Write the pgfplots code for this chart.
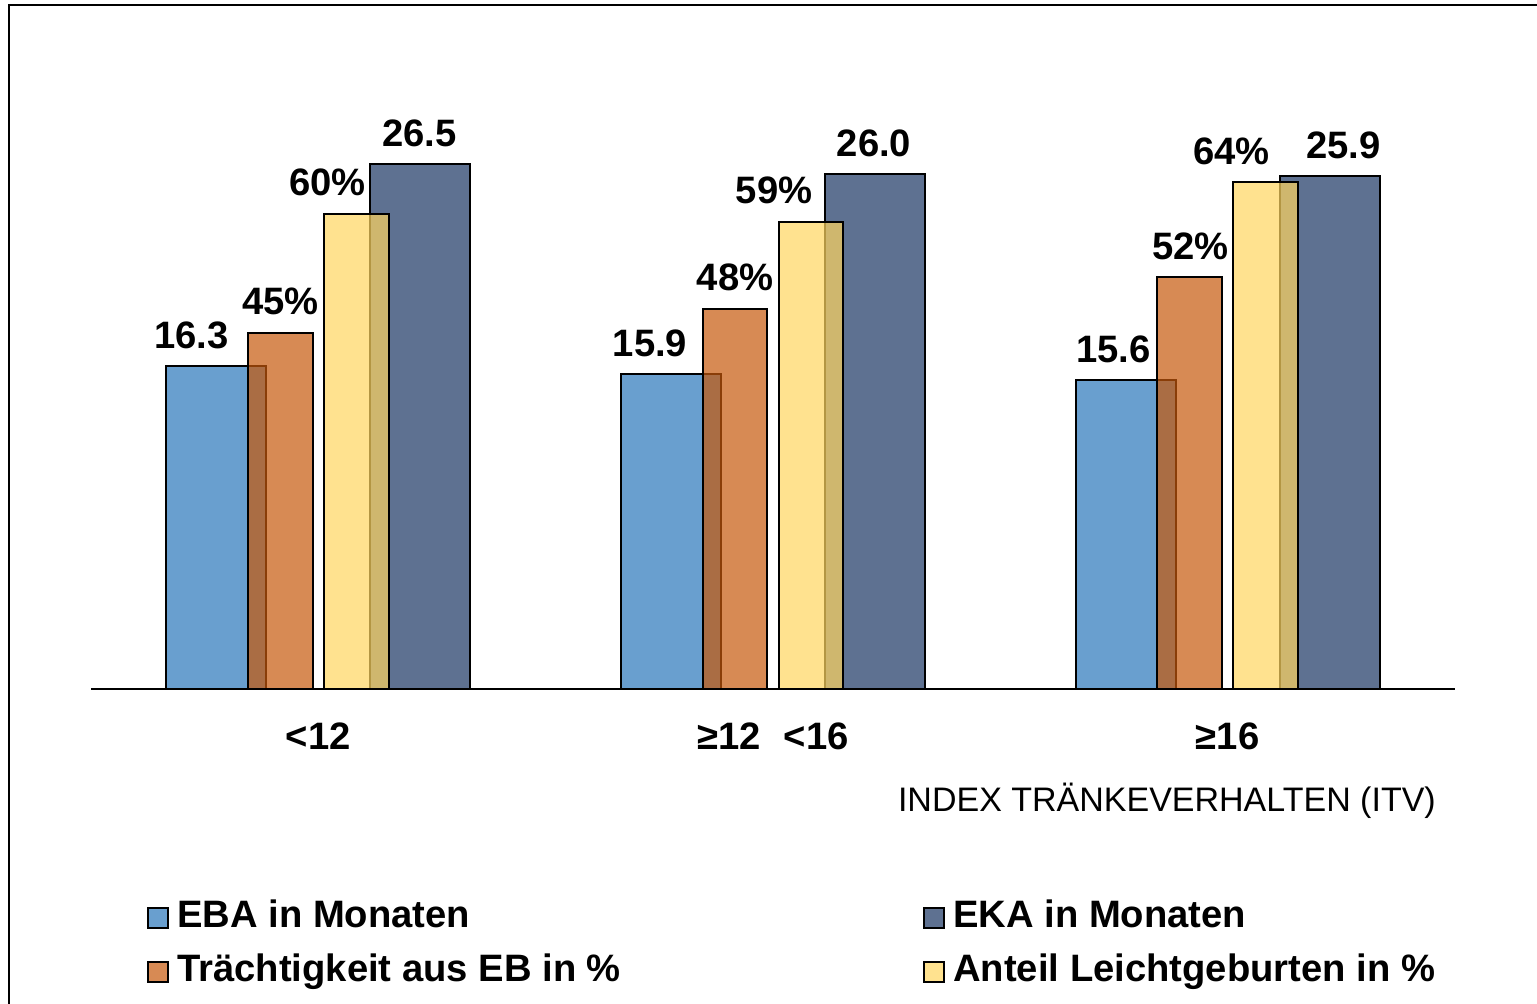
\documentclass[border=0pt]{standalone}
\usepackage{fontspec}
\setmainfont{Liberation Sans}
\usepackage{pgfplots}
\pgfplotsset{compat=1.18}

% bar colours (drawn at 70% fill opacity)
\definecolor{ebaBlue}{RGB}{42,118,186}
\definecolor{ekaNavy}{RGB}{26,52,98}
\definecolor{traeOrange}{RGB}{198,88,11}
\definecolor{leichtYellow}{RGB}{255,214,96}

\newcommand\bigbold{\bfseries\fontsize{38.2}{45}\selectfont}

\pgfplotsset{
  legendsquare/.style={draw=black, line width=2pt, fill opacity=0.7,
    legend image code/.code={\draw[##1, line width=2pt] (0pt,0pt) rectangle (20pt,20pt);}},
  % dx = horizontal offset of the value label from the group centre
  chartbar/.style={ybar, draw=black, line width=2pt, fill opacity=0.7,
    legend image code/.code={\draw[##1, line width=2pt] (0pt,0pt) rectangle (20pt,20pt);},
    nodes near coords, point meta=explicit symbolic,
    visualization depends on={\thisrow{dx}\as\labdx},
    every node near coord/.append style={anchor=south, inner sep=0pt, text depth=0pt,
      yshift=17pt, xshift=\labdx pt, font=\bigbold, text=black,
      fill opacity=1, text opacity=1}},
  baseaxis/.style={scale only axis, width=1364pt, height=594pt,
    at={(91pt,315pt)}, anchor=south west,
    xmin=-0.5, xmax=2.5, ymin=0, clip=false},
}

\begin{document}
\begin{tikzpicture}
\useasboundingbox (0,0) rectangle (1537pt,1004pt);
% outer frame (left and top edges)
\draw[line width=2.5pt] (9pt,0pt) -- (9pt,999pt) -- (1537pt,999pt);

% months: EBA and EKA
\begin{axis}[baseaxis, ymax=30,
  axis x line*=bottom, axis y line=none,
  axis line style={line width=2pt, black},
  xtick={0,1,2},
  xticklabels={<12, ≥12\hspace{0.6em}<16, ≥16},
  major tick length=0pt, xtick style={draw=none},
  xticklabel style={font=\bigbold, anchor=base, yshift=-61pt, inner sep=0pt},
  xlabel={INDEX TRÄNKEVERHALTEN (ITV)},
  xlabel style={at={(axis description cs:0.98607,-0.2054)}, anchor=base east,
    font=\fontsize{34}{40}\selectfont, inner sep=0pt},
]
\addplot[chartbar, fill=ebaBlue, bar width=100pt, bar shift=-102pt]
  table[x=x, y=y, meta=lab] {
  x y lab dx
  0 16.3 16.3 -127
  1 15.9 15.9 -123
  2 15.6 15.6 -114
};
\addplot[chartbar, fill=ekaNavy, bar width=100pt, bar shift=102pt]
  table[x=x, y=y, meta=lab] {
  x y lab dx
  0 26.5 26.5 101
  1 26.0 26.0 101
  2 25.9 25.9 116
};
\end{axis}

% percentages: pregnancy rate and easy births
\begin{axis}[baseaxis, ymax=75, hide axis,
  legend columns=2,
  legend style={at={(axis description cs:0.04128,-0.3547)}, anchor=north west,
    draw=none, fill=none, inner sep=0pt, outer sep=0pt, font=\bigbold,
    row sep=18pt,
    nodes={inner sep=0pt, text height=28pt, text depth=8pt, anchor=base west},
    cells={anchor=base west},
    /tikz/every odd column/.append style={column sep=8pt},
    /tikz/every even column/.append style={column sep=0pt}},
]
\addlegendimage{legendsquare, fill=ebaBlue}
\addlegendentry{\makebox[746pt][l]{EBA in Monaten}}
\addlegendimage{legendsquare, fill=ekaNavy}
\addlegendentry{EKA in Monaten}
\addplot[chartbar, fill=traeOrange, bar width=64.5pt, bar shift=-38pt]
  table[x=x, y=y, meta=lab] {
  x y lab dx
  0 45 45\% -38
  1 48 48\% -38
  2 52 52\% -37
};
\addlegendentry{\makebox[746pt][l]{Trächtigkeit aus EB in \%}}
\addplot[chartbar, fill=leichtYellow, bar width=64.5pt, bar shift=38pt]
  table[x=x, y=y, meta=lab] {
  x y lab dx
  0 60 60\% 9
  1 59 59\% 1
  2 64 64\% 4
};
\addlegendentry{Anteil Leichtgeburten in \%}
\end{axis}
\end{tikzpicture}
\end{document}
